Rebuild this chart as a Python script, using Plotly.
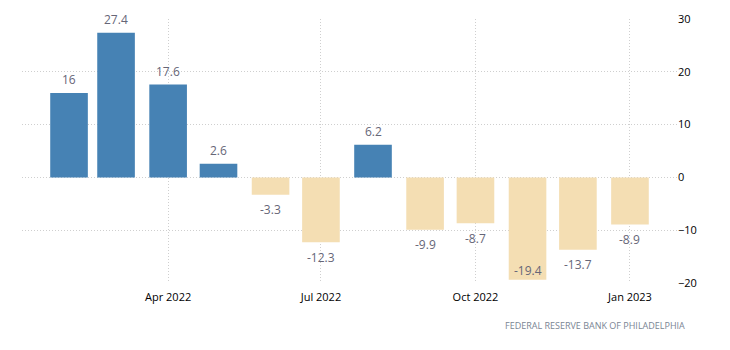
import plotly.graph_objects as go

months = ["2022-02-01", "2022-03-01", "2022-04-01", "2022-05-01", "2022-06-01", "2022-07-01",
          "2022-08-01", "2022-09-01", "2022-10-01", "2022-11-01", "2022-12-01", "2023-01-01"]
values = [16, 27.4, 17.6, 2.6, -3.3, -12.3, 6.2, -9.9, -8.7, -19.4, -13.7, -8.9]
tick_vals = ["2022-04-01", "2022-07-01", "2022-10-01", "2023-01-01"]
tick_text = ["Apr 2022", "Jul 2022", "Oct 2022", "Jan 2023"]
y_ticks = [-20, -10, 0, 10, 20, 30]
y_range = [-20, 30]
source = "FEDERAL RESERVE BANK OF PHILADELPHIA"

POS = "#4682B4"
NEG = "#F4DEB3"
FONT = "Open Sans"
PLOT_H = 264  # plot area height in px

colors = [POS if v >= 0 else NEG for v in values]

fig = go.Figure()
fig.add_trace(go.Bar(x=months, y=values, marker=dict(color=colors, line=dict(width=0)),
                     hoverinfo="skip"))

px_per_unit = PLOT_H / (y_range[1] - y_range[0])
annotations = []
for m, v in zip(months, values):
    if v >= 0:
        shift = 13
    else:
        shift = -15
        if v + shift / px_per_unit < y_range[0]:
            shift = 9  # no room below: put label inside the bar
    annotations.append(dict(
        x=m, y=v, xref="x", yref="y", text=f"{v:g}", showarrow=False,
        yanchor="middle", yshift=shift,
        font=dict(family=FONT, size=12, color="#666677")))
annotations.append(dict(
    xref="paper", yref="paper", x=1 + (687 - 677) / 655, y=-(325 - 283) / PLOT_H,
    text=source, showarrow=False, xanchor="right", yanchor="middle",
    font=dict(family=FONT, size=9, color="#7a8594")))

fig.update_layout(
    width=730, height=350,
    margin=dict(l=22, r=53, t=19, b=67),
    paper_bgcolor="white", plot_bgcolor="white",
    showlegend=False, bargap=0.2,
    annotations=annotations,
    font=dict(family=FONT, size=11, color="#000000"),
    xaxis=dict(
        type="date", range=["2022-01-04", "2023-01-29"],
        tickvals=tick_vals, ticktext=tick_text,
        showgrid=True, gridcolor="#cfcfcf", griddash="1px,2px", gridwidth=1,
        zeroline=False, showline=False, ticks="", ticklabelstandoff=6,
        tickfont=dict(family=FONT, size=11, color="#000000"),
    ),
    yaxis=dict(
        side="right", range=y_range, tickvals=y_ticks,
        showgrid=True, gridcolor="#cfcfcf", griddash="1px,2px", gridwidth=1,
        zeroline=False, showline=False, ticks="",
        tickfont=dict(family=FONT, size=11, color="#000000"),
    ),
)

fig.write_html("out.html")
